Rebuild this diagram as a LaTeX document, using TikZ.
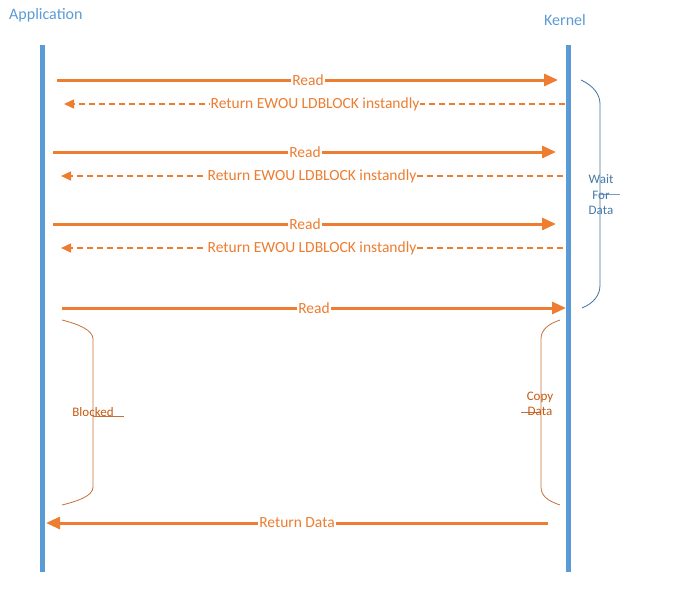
\documentclass[tikz,border=0pt]{standalone}
\usepackage{fontspec}
\setmainfont{Carlito}
\usetikzlibrary{arrows.meta}
\definecolor{lifeblue}{HTML}{5B9BD5}
\definecolor{arrorange}{HTML}{ED7D31}
\definecolor{bracedark}{HTML}{41719C}
\definecolor{bracebrown}{HTML}{C5703A}
\definecolor{txtbrown}{HTML}{C55A11}
\begin{document}
\begin{tikzpicture}[x=1pt,y=-1pt,
  lifeline/.style={draw=lifeblue,line width=5pt},
  title/.style={text=lifeblue,font=\fontsize{16}{18}\selectfont,inner sep=0pt},
  callarrow/.style={draw=arrorange,line width=3pt,-{Triangle[length=14pt,width=12pt]}},
  retarrow/.style={draw=arrorange,line width=1.5pt,dash pattern=on 6pt off 4pt,-{Triangle[length=10pt,width=9pt]}},
  msglabel/.style={fill=white,text=arrorange,font=\fontsize{15.5}{17}\selectfont,inner sep=1pt},
  bracelabel/.style={font=\fontsize{13}{15.5}\selectfont,inner sep=0pt,align=center},
]
\useasboundingbox (0,0) rectangle (687,602);
% titles
\node[title,anchor=west] (app) at (9,15) {Application};
\node[title] (ker) at (565,20) {Kernel};
% lifelines
\coordinate (aTop) at (42,45); \coordinate (aBot) at (42,572);
\coordinate (kTop) at (568,45); \coordinate (kBot) at (568,572);
\draw[lifeline] (aTop) -- (aBot);
\draw[lifeline] (kTop) -- (kBot);
% message endpoints
\coordinate (r1s) at (57,80);  \coordinate (r1e) at (558,80);
\coordinate (e1s) at (565,104); \coordinate (e1e) at (64,104);
\coordinate (r2s) at (53,152); \coordinate (r2e) at (556,152);
\coordinate (e2s) at (563,176); \coordinate (e2e) at (61,176);
\coordinate (r3s) at (53,224); \coordinate (r3e) at (556,224);
\coordinate (e3s) at (563,248); \coordinate (e3e) at (61,248);
\coordinate (r4s) at (62,308); \coordinate (r4e) at (566,308);
\coordinate (d1s) at (548,523); \coordinate (d1e) at (46,523);
% messages
\draw[callarrow] (r1s) -- (r1e);
\node[msglabel] (l1) at (308,80) {Read};
\draw[retarrow] (e1s) -- (e1e);
\node[msglabel] (l2) at (315,104) {Return EWOU LDBLOCK instandly};
\draw[callarrow] (r2s) -- (r2e);
\node[msglabel] (l3) at (305,152) {Read};
\draw[retarrow] (e2s) -- (e2e);
\node[msglabel] (l4) at (312,176) {Return EWOU LDBLOCK instandly};
\draw[callarrow] (r3s) -- (r3e);
\node[msglabel] (l5) at (305,224) {Read};
\draw[retarrow] (e3s) -- (e3e);
\node[msglabel] (l6) at (312,248) {Return EWOU LDBLOCK instandly};
\draw[callarrow] (r4s) -- (r4e);
\node[msglabel] (l7) at (314,308) {Read};
\draw[callarrow] (d1s) -- (d1e);
\node[msglabel] (l8) at (297,523) {Return Data};
% Wait For Data brace
\draw[bracedark,line width=0.8pt] (581,80) .. controls (594,86) and (600,95) .. (600,104)
  -- (600,285) .. controls (600,295) and (594,303) .. (582,308);
\draw[bracedark!70,line width=0.8pt] (600,194) -- (620,194);
\node[bracelabel,text=bracedark!80!lifeblue] (wfd) at (601,195) {Wait\\For\\Data};
% Blocked brace
\draw[bracebrown,line width=0.8pt] (62,320) .. controls (78,324) and (93,330) .. (93,339)
  -- (93,487) .. controls (93,496) and (78,501) .. (62,505);
\draw[bracebrown,line width=0.8pt] (93,416) -- (124,416);
\node[bracelabel,text=txtbrown] (blk) at (93,412) {Blocked};
% Copy Data brace
\draw[bracebrown,line width=0.8pt] (560,320) .. controls (548,324) and (541,330) .. (541,339)
  -- (541,487) .. controls (541,496) and (548,501) .. (560,505);
\draw[bracebrown,line width=0.8pt] (521,412) -- (541,412);
\node[bracelabel,text=txtbrown] (cpd) at (540,404) {Copy\\Data};
\end{tikzpicture}
\end{document}
